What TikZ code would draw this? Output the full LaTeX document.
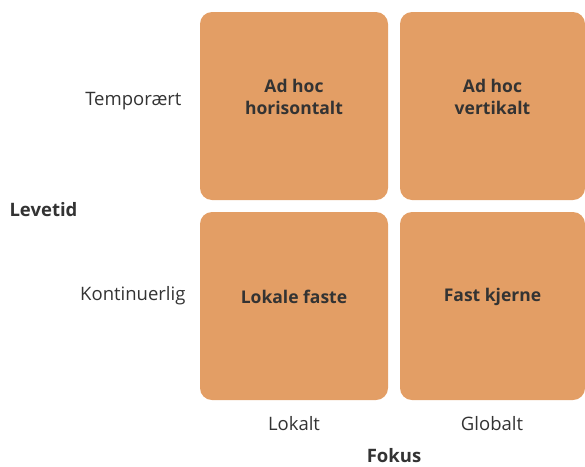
\documentclass[tikz,border=0pt]{standalone}
\usepackage{fontspec}
\setmainfont{Open Sans}
\usepackage{tikz}
\usetikzlibrary{positioning}

\definecolor{cellorange}{HTML}{E39E65}
\definecolor{textgray}{HTML}{333333}

\begin{document}
\begin{tikzpicture}[x=1pt, y=-1pt,
    cell/.style={fill=cellorange, rounded corners=12pt, inner sep=0pt,
                 minimum width=188pt, minimum height=188pt},
    celltext/.style={font=\fontsize{17.5}{22}\selectfont\bfseries, text=textgray, align=center},
    axislabel/.style={font=\fontsize{18.5}{22}\selectfont, text=textgray},
    axistitle/.style={font=\fontsize{18.5}{22}\selectfont\bfseries, text=textgray}]

    \useasboundingbox (0,0) rectangle (585,466);

    % Cells
    \node[cell] (tl) at (294,106) {};
    \node[cell, minimum width=185pt] (tr) at (492.5,106) {};
    \node[cell] (bl) at (294,306) {};
    \node[cell, minimum width=185pt] (br) at (492.5,306) {};

    % Cell texts
    \node[celltext] (tltext) at ([yshift=9pt]tl.center) {Ad hoc\\horisontalt};
    \node[celltext] (trtext) at ([yshift=9pt]tr.center) {Ad hoc\\vertikalt};
    \node[celltext] (bltext) at ([yshift=9pt]bl.center) {Lokale faste};
    \node[celltext] (brtext) at ([yshift=9pt]br.center) {Fast kjerne};

    % Row labels
    \node[axislabel, anchor=east] (temp) at (185,101) {Temporært};
    \node[axislabel, anchor=east] (kont) at (189,296) {Kontinuerlig};
    \node[axistitle, anchor=west] (levetid) at (6,210) {Levetid};

    % Column labels
    \node[axislabel] (lokalt) at (294,424) {Lokalt};
    \node[axislabel] (globalt) at (492,424) {Globalt};
    \node[axistitle] (fokus) at (394,456) {Fokus};

\end{tikzpicture}
\end{document}
